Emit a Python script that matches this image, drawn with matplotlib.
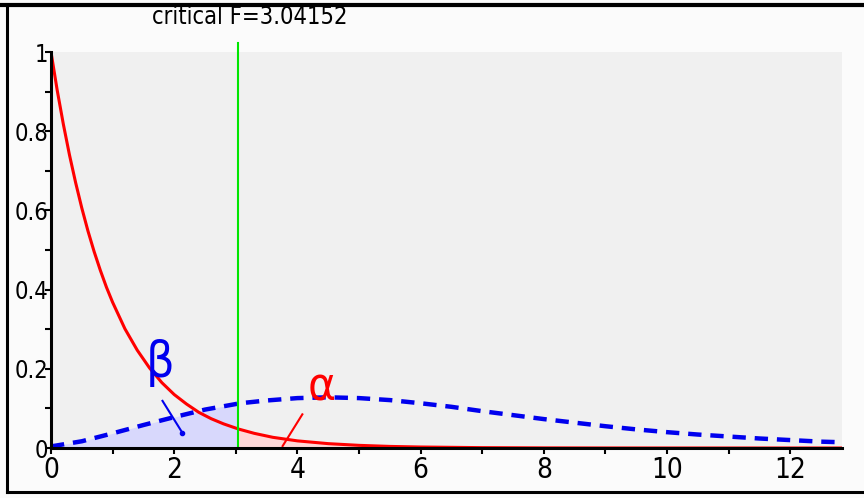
import matplotlib
matplotlib.use("Agg")
import matplotlib.pyplot as plt
from matplotlib.lines import Line2D

plt.rcParams['font.family'] = ['DejaVu Sans']
plt.rcParams['font.stretch'] = 'condensed'

# ---- data ----
crit_F = 3.04152
x_max = 12.84

red_x = [0, 0.1, 0.2, 0.3, 0.4, 0.5, 0.6, 0.7, 0.8, 0.9, 1.0, 1.2, 1.4, 1.6, 1.8, 2.0,
         2.2, 2.4, 2.6, 2.8, 3.04152, 3.3, 3.6, 4.0, 4.5, 5.0, 5.5, 6.0, 7.0, 8.0, 9.0,
         10.0, 11.0, 12.0, 12.84]
red_y = [1.0, 0.904, 0.818, 0.740, 0.670, 0.606, 0.548, 0.496, 0.449, 0.406, 0.368,
         0.301, 0.247, 0.202, 0.165, 0.135, 0.111, 0.090, 0.074, 0.061, 0.048, 0.037,
         0.027, 0.018, 0.011, 0.0067, 0.004, 0.0025, 0.0009, 0.0003, 0.0001, 0.00004,
         0.00001, 0.0, 0.0]

blue_x = [0, 0.5, 1.0, 1.5, 2.0, 2.5, 3.0, 3.04152, 3.5, 4.0, 4.5, 5.0, 5.5, 6.0,
          6.5, 7.0, 7.5, 8.0, 8.5, 9.0, 9.5, 10.0, 10.5, 11.0, 11.5, 12.0, 12.5, 12.84]
blue_y = [0.004, 0.017, 0.037, 0.058, 0.078, 0.097, 0.111, 0.1125, 0.120, 0.126, 0.128,
          0.126, 0.121, 0.113, 0.104, 0.093, 0.083, 0.073, 0.064, 0.055, 0.047, 0.040,
          0.034, 0.029, 0.024, 0.020, 0.016, 0.0145]

x_ticks = [0, 2, 4, 6, 8, 10, 12]
y_ticks = [0, 0.2, 0.4, 0.6, 0.8, 1.0]
y_tick_labels = ['0', '0.2', '0.4', '0.6', '0.8', '1']
title_text = 'critical F=3.04152'

fig = plt.figure(figsize=(8.64, 4.98), dpi=100, facecolor='#fbfbfb')
ax = fig.add_axes([51/864, 1-448/498, (842-51)/864, (448-52)/498])
ax.set_facecolor('#f0f0f0')

# shaded regions
bx_fill = [x for x in blue_x if x <= crit_F]
by_fill = blue_y[:len(bx_fill)]
ax.fill_between(bx_fill, 0, by_fill, color='#d8d8fc', lw=0, zorder=1)
rx_fill = [x for x in red_x if x >= crit_F]
ry_fill = red_y[len(red_x)-len(rx_fill):]
ax.fill_between(rx_fill, 0, ry_fill, color='#ffd8d8', lw=0, zorder=1)

ax.plot(blue_x, blue_y, color='#0000ee', lw=3.2, zorder=3, dashes=(3.0, 2.0))
ax.plot(red_x, red_y, color='red', lw=2.2, zorder=4)
ax.plot([crit_F, crit_F], [0, 1.023], color='#00e600', lw=1.5, zorder=4, clip_on=False)

# annotations
ax.text(1.77, 0.215, 'β', color='#0000ee', fontsize=36, ha='center', va='center', zorder=5)
ax.plot([1.81, 2.13], [0.119, 0.039], color='#0000ee', lw=1.5, zorder=5)
ax.plot([2.13], [0.039], 'o', color='#0000ee', ms=3, zorder=5)
ax.text(4.4, 0.152, 'α', color='red', fontsize=34, ha='center', va='center', zorder=5)
ax.plot([4.08, 3.76], [0.085, 0.005], color='red', lw=1.5, zorder=5)

ax.set_xlim(0, x_max)
ax.set_ylim(0, 1.0)
ax.set_xticks(x_ticks)
ax.set_xticks([1, 3, 5, 7, 9, 11], minor=True)
ax.set_yticks(y_ticks)
ax.set_yticklabels(y_tick_labels)
ax.set_yticks([0.1, 0.3, 0.5, 0.7, 0.9], minor=True)

for s in ['top', 'right']:
    ax.spines[s].set_visible(False)
for s in ['left', 'bottom']:
    ax.spines[s].set_linewidth(2.2)
    ax.spines[s].set_zorder(6)
ax.tick_params(axis='both', which='both', direction='out', length=4, width=1.5,
               color='black')
ax.tick_params(axis='y', pad=-2, labelsize=17)
ax.tick_params(axis='x', pad=2, labelsize=20)

fig.text(250/864, 1-17/498, title_text, fontsize=17, ha='center', va='center')

# outer frame
fig.add_artist(Line2D([0, 1], [1-5/498, 1-5/498], color='black', lw=3.0, transform=fig.transFigure))
fig.add_artist(Line2D([6.5/864, 6.5/864], [1-5/498, 1-491.5/498], color='black', lw=2.2, transform=fig.transFigure))
fig.add_artist(Line2D([6.5/864, 1], [1-491.5/498, 1-491.5/498], color='black', lw=2.2, transform=fig.transFigure))

fig.savefig('out.png', dpi=100, facecolor=fig.get_facecolor())
